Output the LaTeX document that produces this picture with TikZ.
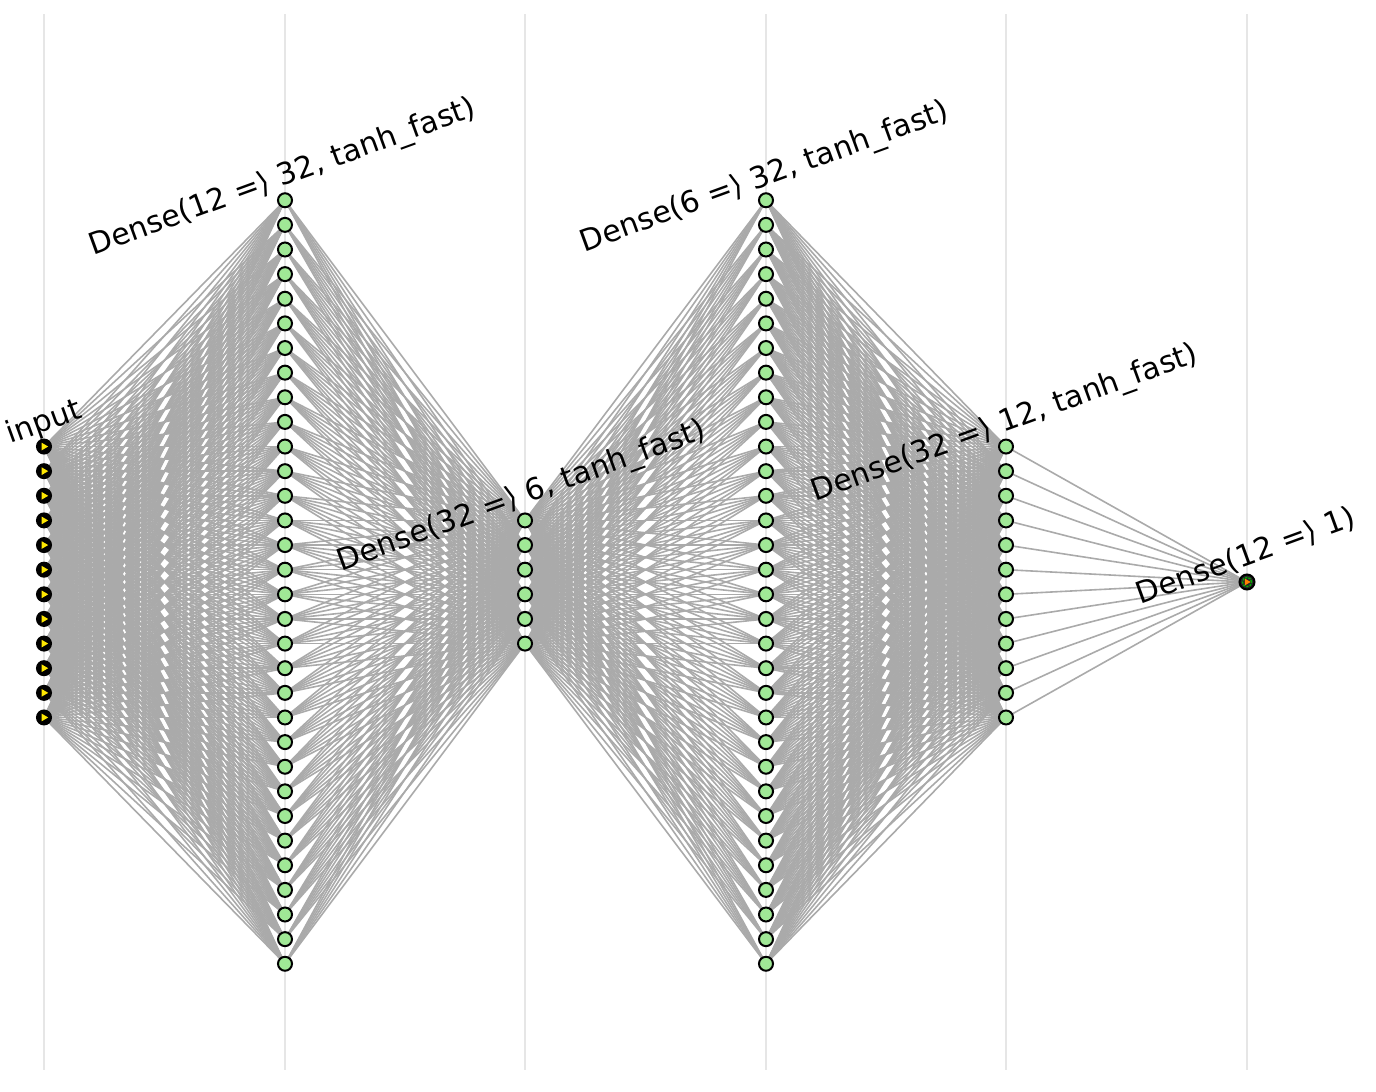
\documentclass[tikz,border=0pt]{standalone}
\usepackage{fontspec}
\setmainfont{DejaVu Sans}
\definecolor{nodegreen}{RGB}{160,232,150}
\definecolor{edgegray}{RGB}{170,170,170}
\definecolor{gridgray}{RGB}{230,230,230}
\pgfdeclarelayer{background}
\pgfsetlayers{background,main}
\tikzset{
  x=1pt, y=-1pt,
  gridline/.style={draw=gridgray, line width=1.3pt},
  edge/.style={draw=edgegray, line width=1.6pt},
  hid/.style={circle, inner sep=0pt, minimum size=14pt, draw=black, line width=2pt, fill=nodegreen},
  inp/.style={circle, inner sep=0pt, minimum size=14pt, draw=black, line width=2pt, fill=black,
    path picture={\fill[yellow!90!orange] ([shift={(-2.3pt,3.8pt)}]path picture bounding box.center) -- ++(6.5pt,-3.8pt) -- ++(-6.5pt,-3.8pt) -- cycle;}},
  outp/.style={circle, inner sep=0pt, minimum size=15pt, draw=black, line width=2pt, fill=black!85,
    path picture={\draw[green!70!black, line width=1.3pt, dash pattern=on 2.2pt off 1.2pt] (path picture bounding box.center) circle (4.6pt);
      \fill[orange] ([shift={(-2.2pt,3.4pt)}]path picture bounding box.center) -- ++(5.8pt,-3.4pt) -- ++(-5.8pt,-3.4pt) -- cycle;}},
  lbl/.style={rotate=20, font=\fontsize{30}{33}\selectfont, inner sep=0pt, anchor=center}
}
\begin{document}
\begin{tikzpicture}
\useasboundingbox (0,0) rectangle (1376,1092);
% grid line ends
\foreach \k/\x in {1/44,2/285,3/525,4/766,5/1006,6/1247} {
  \coordinate (gt\k) at (\x,14);
  \coordinate (gb\k) at (\x,1070);
}
% nodes
\foreach \i in {1,...,12} \node[inp] (a\i) at (44,{582+(\i-6.5)*24.63}) {};
\foreach \i in {1,...,32} \node[hid] (b\i) at (285,{582+(\i-16.5)*24.63}) {};
\foreach \i in {1,...,6}  \node[hid] (c\i) at (525,{582+(\i-3.5)*24.63}) {};
\foreach \i in {1,...,32} \node[hid] (d\i) at (766,{582+(\i-16.5)*24.63}) {};
\foreach \i in {1,...,12} \node[hid] (e\i) at (1006,{582+(\i-6.5)*24.63}) {};
\node[outp] (f1) at (1247,582) {};
% background: grid and edges
\begin{pgfonlayer}{background}
\foreach \k in {1,...,6} \draw[gridline] (gt\k) -- (gb\k);
\foreach \i in {1,...,12} \foreach \j in {1,...,32} \draw[edge] (a\i.center) -- (b\j.center);
\foreach \i in {1,...,32} \foreach \j in {1,...,6} \draw[edge] (b\i.center) -- (c\j.center);
\foreach \i in {1,...,6} \foreach \j in {1,...,32} \draw[edge] (c\i.center) -- (d\j.center);
\foreach \i in {1,...,32} \foreach \j in {1,...,12} \draw[edge] (d\i.center) -- (e\j.center);
\foreach \i in {1,...,12} \draw[edge] (e\i.center) -- (f1.center);
\end{pgfonlayer}
% labels
\node[lbl] (la) at (44,423) {input};
\node[lbl] (lb) at (283,178) {Dense(12 =⟩ 32, tanh\_fast)};
\node[lbl] (lc) at (522,497) {Dense(32 =⟩ 6, tanh\_fast)};
\node[lbl] (ld) at (765,178) {Dense(6 =⟩ 32, tanh\_fast)};
\node[lbl] (le) at (1005,424) {Dense(32 =⟩ 12, tanh\_fast)};
\node[lbl] (lf) at (1246,556) {Dense(12 =⟩ 1)};
\end{tikzpicture}
\end{document}
